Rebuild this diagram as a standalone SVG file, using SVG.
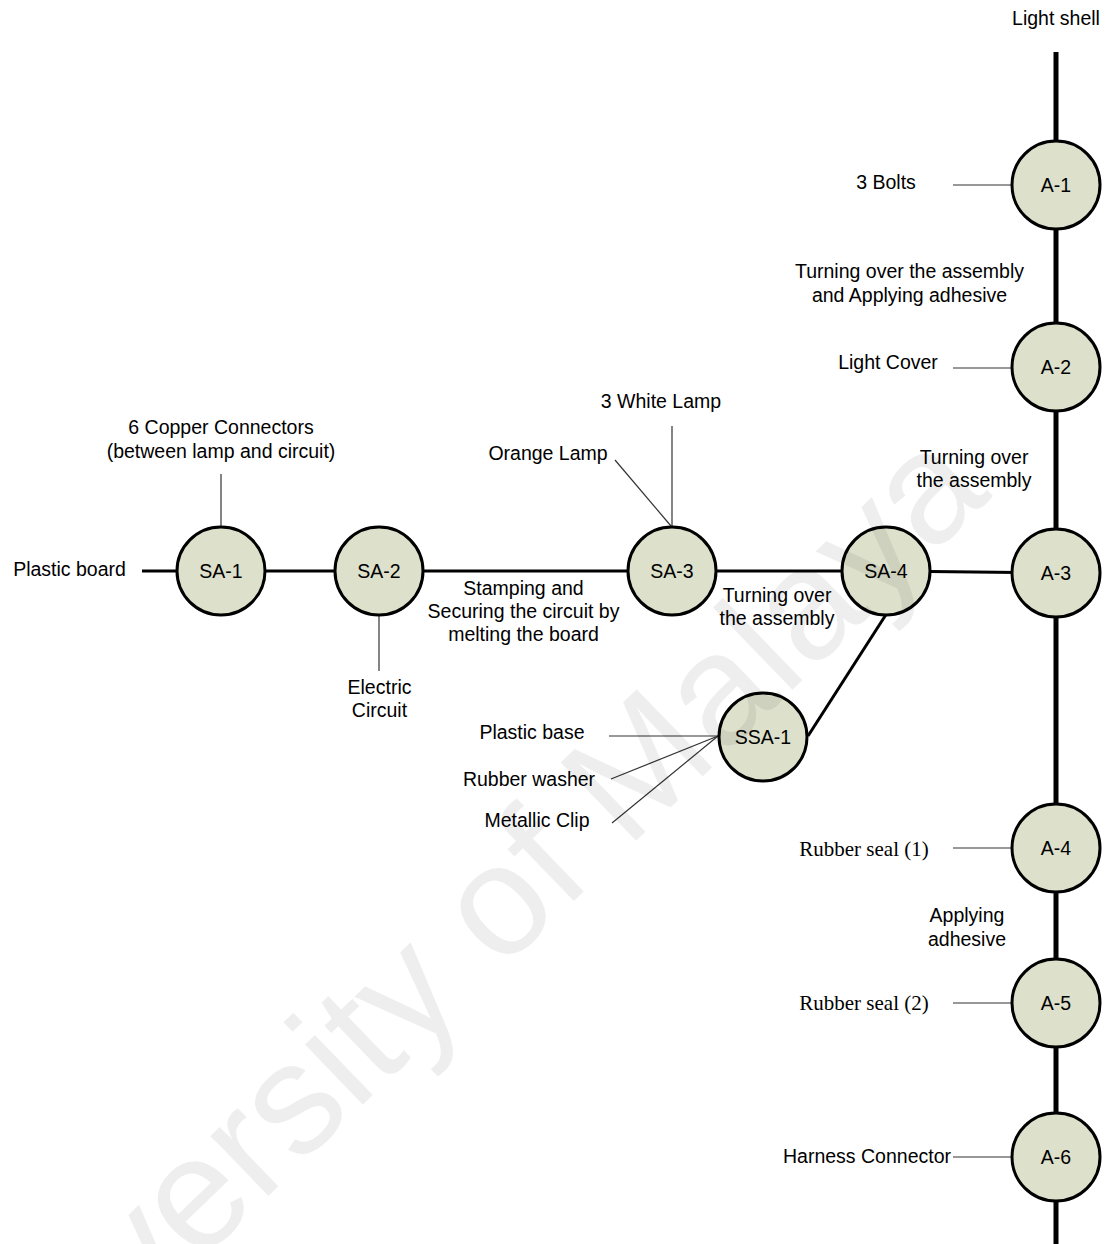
<svg xmlns="http://www.w3.org/2000/svg" width="1117" height="1244" viewBox="0 0 1117 1244">
<style>
text{font-family:"Liberation Sans",Arial,sans-serif;font-size:19.5px;fill:#000;text-anchor:middle}
.serif{font-family:"Liberation Serif","Times New Roman",serif;font-size:21px}
.node circle{fill:#dde0cb;stroke:#000;stroke-width:3}
.thick{stroke:#000;stroke-width:3;fill:none}
.spine{stroke:#000;stroke-width:5;fill:none}
.thin{stroke:#333;stroke-width:1.2;fill:none}
.wm{font-size:158px;fill:#000;fill-opacity:0.065;text-anchor:start}
</style>
<rect width="1117" height="1244" fill="#fff"/>
<g id="connectors">
<line class="spine" x1="1056" y1="52" x2="1056" y2="1244"/>
<line class="thick" x1="142" y1="571" x2="221" y2="571"/>
<line class="thick" x1="221" y1="571" x2="379" y2="571"/>
<line class="thick" x1="379" y1="571" x2="672" y2="571"/>
<line class="thick" x1="672" y1="571" x2="886" y2="571"/>
<line class="thick" x1="886" y1="571" x2="1056" y2="573"/>
<line class="thick" x1="887" y1="613" x2="808" y2="736"/>
<line class="thin" x1="221" y1="474" x2="221" y2="527"/>
<line class="thin" x1="379" y1="615" x2="379" y2="671"/>
<line class="thin" x1="672" y1="426" x2="672" y2="527"/>
<line class="thin" x1="615" y1="460" x2="671" y2="526"/>
<line class="thin" x1="953" y1="185" x2="1012" y2="185"/>
<line class="thin" x1="953" y1="368" x2="1012" y2="368"/>
<line class="thin" x1="953" y1="848" x2="1012" y2="848"/>
<line class="thin" x1="953" y1="1003" x2="1012" y2="1003"/>
<line class="thin" x1="953" y1="1157" x2="1012" y2="1157"/>
<line class="thin" x1="609" y1="736" x2="718" y2="736"/>
<line class="thin" x1="611" y1="779" x2="718" y2="736"/>
<line class="thin" x1="612" y1="823" x2="718" y2="736"/>
</g>
<g id="SA-1" class="node"><circle cx="221" cy="571" r="44"/><text x="221" y="578">SA-1</text></g>
<g id="SA-2" class="node"><circle cx="379" cy="571" r="44"/><text x="379" y="578">SA-2</text></g>
<g id="SA-3" class="node"><circle cx="672" cy="571" r="44"/><text x="672" y="578">SA-3</text></g>
<g id="SA-4" class="node"><circle cx="886" cy="571" r="44"/><text x="886" y="578">SA-4</text></g>
<g id="SSA-1" class="node"><circle cx="763" cy="737" r="44"/><text x="763" y="744">SSA-1</text></g>
<g id="A-1" class="node"><circle cx="1056" cy="185" r="44"/><text x="1056" y="192">A-1</text></g>
<g id="A-2" class="node"><circle cx="1056" cy="367" r="44"/><text x="1056" y="374">A-2</text></g>
<g id="A-3" class="node"><circle cx="1056" cy="573" r="44"/><text x="1056" y="580">A-3</text></g>
<g id="A-4" class="node"><circle cx="1056" cy="848" r="44"/><text x="1056" y="855">A-4</text></g>
<g id="A-5" class="node"><circle cx="1056" cy="1003" r="44"/><text x="1056" y="1010">A-5</text></g>
<g id="A-6" class="node"><circle cx="1056" cy="1157" r="44"/><text x="1056" y="1164">A-6</text></g>
<g id="labels">
<text x="1056" y="25">Light shell</text>
<text x="886" y="189">3 Bolts</text>
<text x="909.5" y="278">Turning over the assembly</text>
<text x="909.5" y="302">and Applying adhesive</text>
<text x="888" y="369">Light Cover</text>
<text x="661" y="408">3 White Lamp</text>
<text x="221" y="434">6 Copper Connectors</text>
<text x="221" y="458">(between lamp and circuit)</text>
<text x="548" y="460">Orange Lamp</text>
<text x="974" y="464">Turning over</text>
<text x="974" y="487">the assembly</text>
<text x="69.5" y="576">Plastic board</text>
<text x="523.5" y="595">Stamping and</text>
<text x="523.5" y="618">Securing the circuit by</text>
<text x="523.5" y="641">melting the board</text>
<text x="777" y="602">Turning over</text>
<text x="777" y="625">the assembly</text>
<text x="379.5" y="694">Electric</text>
<text x="379.5" y="717">Circuit</text>
<text x="532" y="739">Plastic base</text>
<text x="529" y="786">Rubber washer</text>
<text x="537" y="827">Metallic Clip</text>
<text class="serif" x="864" y="856">Rubber seal (1)</text>
<text x="967" y="922">Applying</text>
<text x="967" y="946">adhesive</text>
<text class="serif" x="864" y="1010">Rubber seal (2)</text>
<text x="867" y="1163">Harness Connector</text>
</g>
<text class="wm" transform="translate(-30,1484) rotate(-44)">University of Malaya</text>
</svg>
